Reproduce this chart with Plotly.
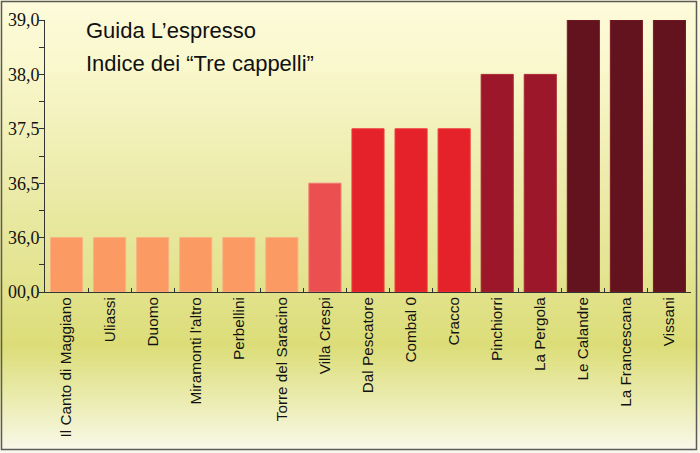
import struct
import zlib
import base64
import plotly.graph_objects as go

# ---- data ----
restaurants = [
    "Il Canto di Maggiano", "Uliassi", "Duomo", "Miramonti l'altro", "Perbellini",
    "Torre del Saracino", "Villa Crespi", "Dal Pescatore", "Combal 0", "Cracco",
    "Pinchiorri", "La Pergola", "Le Calandre", "La Francescana", "Vissani",
]
scores = [36.0, 36.0, 36.0, 36.0, 36.0, 36.0, 36.5, 37.5, 37.5, 37.5,
          38.0, 38.0, 39.0, 39.0, 39.0]
tick_levels = [0.0, 36.0, 36.5, 37.5, 38.0, 39.0]
tick_labels = ["00,0", "36,0", "36,5", "37,5", "38,0", "39,0"]
title_lines = ["Guida L\u2019espresso", "Indice dei \u201cTre cappelli\u201d"]

# colour per score level
level_colors = {36.0: "#fc9a63", 36.5: "#ec4f50", 37.5: "#e5222a", 38.0: "#9c1729", 39.0: "#62131e"}
level_edges = {36.0: "#f7b285", 36.5: "#f07a72", 37.5: "#ee3a3a", 38.0: "#a82832", 39.0: "#7a1c24"}

# axis is ordinal: each listed level sits on an evenly spaced tick
bar_pos = [tick_levels.index(s) for s in scores]

# ---- figure geometry ----
W, H = 700, 453
L, R, T, B = 45, 9, 20, 161
pw, ph = W - L - R, H - T - B


def px_x(px):
    return (px - L) / pw


def px_y(py):
    return (H - B - py) / ph


# ---- background gradient as a tiny PNG ----
stops = [(0, (253, 251, 218)), (60, (250, 248, 206)), (183, (236, 235, 170)),
         (290, (226, 226, 140)), (345, (220, 221, 120)), (400, (235, 236, 176)),
         (453, (249, 249, 238))]


def grad(y):
    for (y0, c0), (y1, c1) in zip(stops, stops[1:]):
        if y0 <= y <= y1:
            t = (y - y0) / (y1 - y0)
            return tuple(int(round(a + (b - a) * t)) for a, b in zip(c0, c1))
    return stops[-1][1]


raw = b"".join(b"\x00" + bytes(grad(y)) for y in range(H))


def chunk(tag, data):
    c = struct.pack(">I", len(data)) + tag + data
    return c + struct.pack(">I", zlib.crc32(tag + data) & 0xffffffff)


png = (b"\x89PNG\r\n\x1a\n" + chunk(b"IHDR", struct.pack(">IIBBBBB", 1, H, 8, 2, 0, 0, 0))
       + chunk(b"IDAT", zlib.compress(raw)) + chunk(b"IEND", b""))
bg_uri = "data:image/png;base64," + base64.b64encode(png).decode()

fig = go.Figure()
fig.add_trace(go.Bar(
    x=restaurants,
    y=bar_pos,
    marker=dict(color=[level_colors[s] for s in scores],
                line=dict(color=[level_edges[s] for s in scores], width=1)),
    hovertext=[f"{s:.1f}" for s in scores],
))

fig.add_layout_image(dict(
    source=bg_uri, xref="paper", yref="paper",
    x=px_x(0), y=px_y(0), sizex=W / pw, sizey=H / ph,
    xanchor="left", yanchor="top", sizing="stretch", layer="below",
))

# outer frame
fig.add_shape(type="rect", xref="paper", yref="paper",
              x0=px_x(1.5), x1=px_x(696.5), y0=px_y(449.5), y1=px_y(1.5),
              line=dict(color="#5a5a5a", width=1.5), layer="above")

for i, (txt, yc) in enumerate(zip(title_lines, [31, 63])):
    fig.add_annotation(text=txt, xref="paper", yref="paper", x=px_x(84), y=px_y(yc),
                       xanchor="left", yanchor="middle", showarrow=False,
                       font=dict(family="Liberation Sans, Arial, sans-serif", size=22, color="#111"))

fig.update_layout(
    width=W, height=H,
    margin=dict(l=L, r=R, t=T, b=B, pad=0),
    paper_bgcolor="white",
    plot_bgcolor="rgba(0,0,0,0)",
    bargap=0.255,
    showlegend=False,
    xaxis=dict(
        type="category", tickangle=-90, tickson="boundaries",
        ticks="inside", ticklen=4, tickcolor="#333",
        showline=True, linecolor="#333", linewidth=1,
        showgrid=False, zeroline=False, automargin=False,
        ticklabelstandoff=-2,
        tickfont=dict(family="Liberation Sans, Arial, sans-serif", size=15.3, color="#111"),
    ),
    yaxis=dict(
        range=[0, len(tick_levels) - 1],
        tickmode="array", tickvals=list(range(len(tick_levels))), ticktext=tick_labels,
        ticks="outside", ticklen=5, tickcolor="#333",
        minor=dict(ticks="outside", ticklen=5, tickcolor="#333", dtick=0.5, tick0=0, showgrid=False),
        showline=True, linecolor="#333", linewidth=1,
        showgrid=False, zeroline=False, automargin=False,
        ticklabelstandoff=-4,
        tickfont=dict(family="Liberation Serif, Times New Roman, serif", size=18, color="#111"),
    ),
)

fig.write_html("out.html", config={"displayModeBar": False},
               post_script="document.body.style.margin='0';")
